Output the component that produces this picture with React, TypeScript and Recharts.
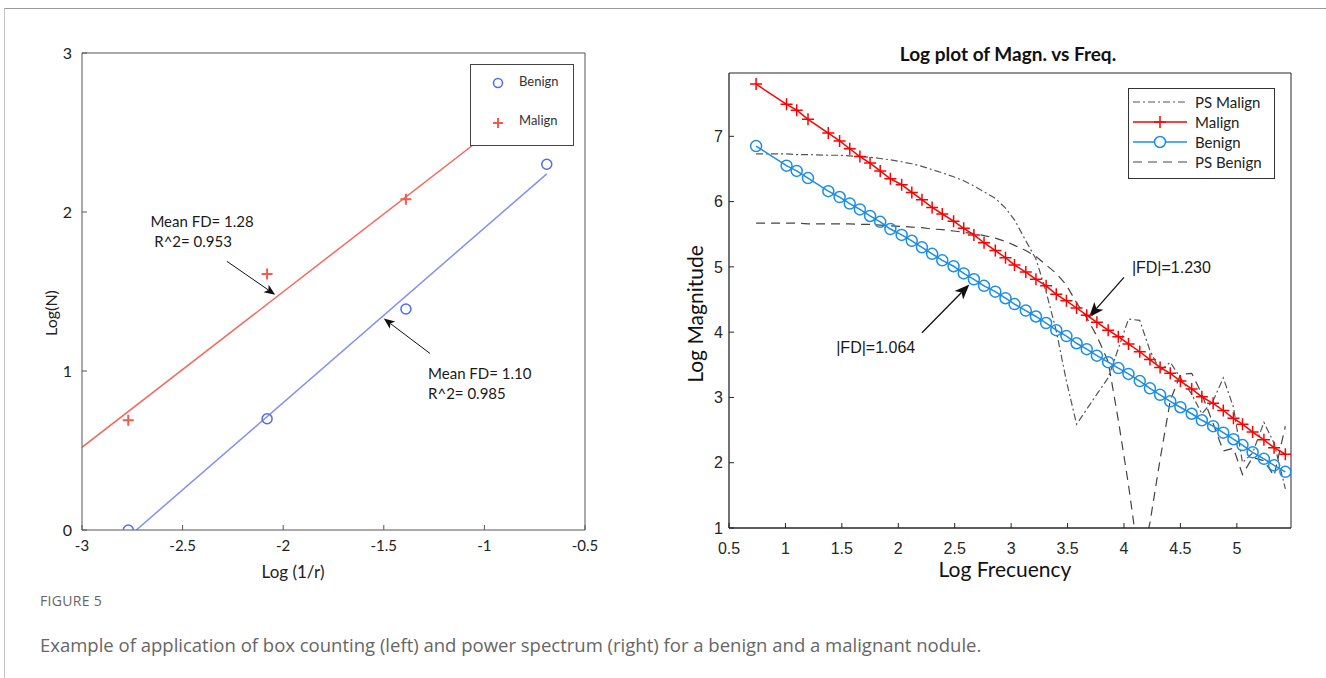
import React from 'react';
import { ComposedChart, Line, Scatter, XAxis, YAxis, ReferenceLine, ReferenceDot } from 'recharts';

// ---- left panel: box counting ----
const boxLogInvR = [-2.77, -2.08, -1.39, -0.69];
const benignLogN = [0.0, 0.7, 1.39, 2.3];
const malignLogN = [0.69, 1.61, 2.08];
const benignFitX = [-2.73, -0.69];
const benignFitY = [0, 2.24];
const malignFitX = [-3, -0.69];
const malignFitY = [0.52, 2.78];
const leftXTicks = [-3, -2.5, -2, -1.5, -1, -0.5];
const leftYTicks = [0, 1, 2, 3];

// ---- right panel: power spectrum ----
const logFreq = [
  0.74, 1.01, 1.1, 1.2, 1.38, 1.48, 1.57, 1.66, 1.75, 1.84, 1.93, 2.03, 2.12, 2.21, 2.3, 2.39, 2.49,
  2.58, 2.67, 2.76, 2.86, 2.95, 3.03, 3.13, 3.22, 3.31, 3.4, 3.49, 3.58, 3.67, 3.76, 3.86, 3.95,
  4.04, 4.14, 4.23, 4.32, 4.41, 4.5, 4.6, 4.69, 4.79, 4.88, 4.97, 5.05, 5.14, 5.24, 5.33, 5.43,
];
const malignMag = [
  7.8, 7.49, 7.4, 7.26, 7.05, 6.93, 6.81, 6.69, 6.59, 6.47, 6.35, 6.26, 6.14, 6.03, 5.91, 5.81, 5.7,
  5.59, 5.49, 5.37, 5.25, 5.14, 5.03, 4.92, 4.81, 4.71, 4.58, 4.48, 4.37, 4.26, 4.15, 4.03, 3.93,
  3.82, 3.7, 3.58, 3.46, 3.37, 3.25, 3.13, 3.01, 2.91, 2.8, 2.68, 2.59, 2.47, 2.35, 2.23, 2.13,
];
const benignMag = [
  6.85, 6.55, 6.47, 6.36, 6.16, 6.07, 5.97, 5.88, 5.78, 5.69, 5.58, 5.49, 5.4, 5.3, 5.2, 5.1, 5.01,
  4.9, 4.81, 4.71, 4.62, 4.52, 4.43, 4.33, 4.24, 4.14, 4.03, 3.94, 3.83, 3.74, 3.64, 3.54, 3.45,
  3.36, 3.25, 3.14, 3.04, 2.94, 2.85, 2.75, 2.65, 2.56, 2.46, 2.36, 2.27, 2.16, 2.06, 1.96, 1.86,
];
const psMalign = [
  6.73, 6.73, 6.72, 6.72, 6.71, 6.71, 6.7, 6.69, 6.68, 6.66, 6.64, 6.61, 6.58, 6.54, 6.49, 6.44, 6.38,
  6.32, 6.24, 6.15, 6.05, 5.9, 5.72, 5.4, 5.12, 4.62, 4.02, 3.25, 2.59, 2.82, 3.05, 3.3, 3.75,
  4.2, 4.18, 3.72, 3.41, 3.54, 3.3, 3.05, 2.75, 2.95, 3.3, 2.85, 2.0, 2.15, 2.62, 2.3, 1.6,
];
const psBenign = [
  5.67, 5.67, 5.67, 5.66, 5.66, 5.66, 5.66, 5.65, 5.65, 5.64, 5.63, 5.62, 5.61, 5.6, 5.58, 5.57, 5.55,
  5.53, 5.51, 5.48, 5.44, 5.39, 5.33, 5.25, 5.16, 5.03, 4.9, 4.72, 4.45, 4.22, 3.94, 3.55, 2.65,
  1.66, 0.4, 1.08, 2.05, 2.95, 3.35, 3.37, 3.05, 2.6, 2.18, 2.22, 1.82, 2.08, 2.03, 1.8, 2.56,
];
const rightXTicks = [0.5, 1, 1.5, 2, 2.5, 3, 3.5, 4, 4.5, 5];
const rightYTicks = [1, 2, 3, 4, 5, 6, 7];

const pts = (xs: number[], ys: number[]) => ys.map((y, i) => ({ x: xs[i], y }));

const benignPts = pts(boxLogInvR, benignLogN);
const malignPts = pts(boxLogInvR, malignLogN);
const benignFit = pts(benignFitX, benignFitY);
const malignFit = pts(malignFitX, malignFitY);

const malignSeries = pts(logFreq, malignMag);
const benignSeries = pts(logFreq, benignMag);
const psMalignSeries = pts(logFreq, psMalign);
const psBenignSeries = pts(logFreq, psBenign);

const CAL = 'Lato, "Open Sans", sans-serif';
const ARIAL = '"Liberation Sans", Arial, sans-serif';

const arrow = (head: number, half: number, sw: number) => (p: any) => {
  const { x1, y1, x2, y2 } = p;
  const a = Math.atan2(y2 - y1, x2 - x1);
  const c = Math.cos(a);
  const s = Math.sin(a);
  const bx = x2 - head * c;
  const by = y2 - head * s;
  const nx = x2 - head * 0.75 * c;
  const ny = y2 - head * 0.75 * s;
  return (
    <g>
      <line x1={x1} y1={y1} x2={nx} y2={ny} stroke="#111" strokeWidth={sw} />
      <polygon
        points={`${x2},${y2} ${bx - s * half},${by + c * half} ${nx},${ny} ${bx + s * half},${by - c * half}`}
        fill="#111"
      />
    </g>
  );
};

const note = (lines: string[], font: string, size: number, lh: number) => (p: any) => (
  <text x={p.cx} y={p.cy} fontFamily={font} fontSize={size} fill="#1a1a1a">
    {lines.map((l, i) => (
      <tspan key={i} x={p.cx} dy={i === 0 ? '0.35em' : lh}>
        {l}
      </tspan>
    ))}
  </text>
);

const circleShape = (color: string, r: number) => (p: any) => (
  <circle cx={p.cx} cy={p.cy} r={r} fill="none" stroke={color} strokeWidth={1.5} />
);
const plusShape = (color: string, h: number, sw: number) => (p: any) => (
  <path
    key={p.index}
    d={`M${p.cx - h},${p.cy}h${2 * h}M${p.cx},${p.cy - h}v${2 * h}`}
    stroke={color}
    strokeWidth={sw}
    fill="none"
  />
);

function BoxCounting() {
  const axisStroke = '#555';
  return (
    <div style={{ position: 'absolute', left: 0, top: 0 }}>
      <ComposedChart width={600} height={590} margin={{ top: 52, right: 14, bottom: 20, left: 40 }}>
        <XAxis
          type="number"
          dataKey="x"
          domain={[-3, -0.5]}
          ticks={leftXTicks}
          interval={0}
          allowDataOverflow
          height={40}
          tickSize={-5}
          tickMargin={15}
          axisLine={{ stroke: axisStroke }}
          tickLine={{ stroke: axisStroke }}
          tick={{ fill: '#222', fontSize: 15, fontFamily: CAL }}
        />
        <XAxis
          xAxisId="top"
          orientation="top"
          type="number"
          dataKey="x"
          domain={[-3, -0.5]}
          ticks={leftXTicks}
          interval={0}
          height={1}
          tickSize={-5}
          tickFormatter={() => ''}
          axisLine={{ stroke: axisStroke }}
          tickLine={{ stroke: axisStroke }}
        />
        <YAxis
          type="number"
          domain={[0, 3]}
          ticks={leftYTicks}
          interval={0}
          allowDataOverflow
          width={42}
          tickSize={-5}
          tickMargin={15}
          axisLine={{ stroke: axisStroke }}
          tickLine={{ stroke: axisStroke }}
          tick={{ fill: '#222', fontSize: 16, fontFamily: CAL }}
        />
        <YAxis
          yAxisId="right"
          orientation="right"
          type="number"
          domain={[0, 3]}
          ticks={leftYTicks}
          interval={0}
          width={1}
          tickSize={-5}
          tickFormatter={() => ''}
          axisLine={{ stroke: axisStroke }}
          tickLine={{ stroke: axisStroke }}
        />
        <Line data={malignFit} dataKey="y" stroke="#f46a5e" strokeWidth={1.5} dot={false} isAnimationActive={false} />
        <Line data={benignFit} dataKey="y" stroke="#8290f5" strokeWidth={1.5} dot={false} isAnimationActive={false} />
        <Scatter data={benignPts} dataKey="y" shape={circleShape('#4f6cf0', 5)} isAnimationActive={false} />
        <Scatter data={malignPts} dataKey="y" shape={plusShape('#f25a52', 5.5, 2)} isAnimationActive={false} />
        <ReferenceLine segment={[{ x: -2.28, y: 1.69 }, { x: -2.04, y: 1.48 }]} shape={arrow(11, 4.5, 1)} />
        <ReferenceLine segment={[{ x: -1.27, y: 1.11 }, { x: -1.5, y: 1.33 }]} shape={arrow(11, 4.5, 1)} />
        <ReferenceDot x={-2.66} y={1.94} r={0} shape={note(['Mean FD= 1.28', ' R^2= 0.953'], CAL, 15, 20)} />
        <ReferenceDot x={-1.28} y={0.98} r={0} shape={note(['Mean FD= 1.10', 'R^2= 0.985'], CAL, 15, 20)} />
      </ComposedChart>
      <div
        style={{
          position: 'absolute', left: 470, top: 64, width: 102, height: 80, border: '1px solid #444',
          background: '#fff', fontFamily: CAL, fontSize: 13, color: '#333',
        }}
      >
        <svg width={20} height={80} style={{ position: 'absolute', left: 17, top: 0 }}>
          <circle cx={10} cy={18} r={4.5} fill="none" stroke="#4f6cf0" strokeWidth={1.5} />
          <path d="M5,58h10M10,53v10" stroke="#f25a52" strokeWidth={2} />
        </svg>
        <div style={{ position: 'absolute', left: 48, top: 8 }}>Benign</div>
        <div style={{ position: 'absolute', left: 48, top: 47 }}>Malign</div>
      </div>
      <div
        style={{
          position: 'absolute', left: 50, top: 313, transform: 'translate(-50%, -50%) rotate(-90deg)',
          fontFamily: CAL, fontSize: 16, color: '#222', whiteSpace: 'nowrap',
        }}
      >
        Log(N)
      </div>
      <div
        style={{
          position: 'absolute', left: 293, top: 571, transform: 'translate(-50%, -50%)',
          fontFamily: CAL, fontSize: 17, color: '#222', whiteSpace: 'nowrap',
        }}
      >
        Log (1/r)
      </div>
    </div>
  );
}

function PowerSpectrum() {
  const axisStroke = '#262626';
  const legendRows = [
    { label: 'PS Malign', color: '#555', dash: '7 3 2 3', mark: '' },
    { label: 'Malign', color: '#ff0000', dash: '', mark: 'plus' },
    { label: 'Benign', color: '#1c8de8', dash: '', mark: 'circle' },
    { label: 'PS Benign', color: '#444', dash: '9 6', mark: '' },
  ];
  return (
    <div style={{ position: 'absolute', left: 660, top: 20 }}>
      <ComposedChart width={650} height={560} margin={{ top: 52, right: 18, bottom: 22, left: 24 }}>
        <XAxis
          type="number"
          dataKey="x"
          domain={[0.5, 5.48]}
          ticks={rightXTicks}
          interval={0}
          allowDataOverflow
          height={30}
          tickSize={-5}
          tickMargin={20}
          axisLine={{ stroke: axisStroke, strokeWidth: 1.3 }}
          tickLine={{ stroke: axisStroke }}
          tick={{ fill: '#262626', fontSize: 16, fontFamily: ARIAL }}
        />
        <XAxis
          xAxisId="top"
          orientation="top"
          type="number"
          dataKey="x"
          domain={[0.5, 5.48]}
          ticks={rightXTicks}
          interval={0}
          height={1}
          tickSize={-5}
          tickFormatter={() => ''}
          axisLine={{ stroke: axisStroke }}
          tickLine={{ stroke: axisStroke }}
        />
        <YAxis
          type="number"
          domain={[1, 7.97]}
          ticks={rightYTicks}
          interval={0}
          allowDataOverflow
          width={45}
          tickSize={-5}
          tickMargin={11}
          axisLine={{ stroke: axisStroke, strokeWidth: 1.3 }}
          tickLine={{ stroke: axisStroke }}
          tick={{ fill: '#262626', fontSize: 16, fontFamily: ARIAL }}
        />
        <YAxis
          yAxisId="right"
          orientation="right"
          type="number"
          domain={[1, 7.97]}
          ticks={rightYTicks}
          interval={0}
          width={1}
          tickSize={-5}
          tickFormatter={() => ''}
          axisLine={{ stroke: axisStroke }}
          tickLine={{ stroke: axisStroke }}
        />
        <Line data={psMalignSeries} dataKey="y" stroke="#555" strokeWidth={1.2} strokeDasharray="7 3 2 3" dot={false} isAnimationActive={false} />
        <Line data={psBenignSeries} dataKey="y" stroke="#444" strokeWidth={1.2} strokeDasharray="9 6" dot={false} isAnimationActive={false} />
        <Line data={malignSeries} dataKey="y" stroke="#ff0000" strokeWidth={1.5} dot={plusShape('#ff0000', 6, 1.5)} isAnimationActive={false} />
        <Line data={benignSeries} dataKey="y" stroke="#1c8de8" strokeWidth={1.5} dot={(p: any) => <circle key={p.index} cx={p.cx} cy={p.cy} r={5.5} fill="none" stroke="#1c8de8" strokeWidth={1.5} />} isAnimationActive={false} />
        <ReferenceLine segment={[{ x: 4.0, y: 4.84 }, { x: 3.69, y: 4.23 }]} shape={arrow(15, 6, 1.3)} />
        <ReferenceLine segment={[{ x: 2.21, y: 3.99 }, { x: 2.63, y: 4.73 }]} shape={arrow(15, 6, 1.3)} />
        <ReferenceDot x={4.07} y={4.99} r={0} shape={note(['|FD|=1.230'], ARIAL, 16, 0)} />
        <ReferenceDot x={1.45} y={3.76} r={0} shape={note(['|FD|=1.064'], ARIAL, 16, 0)} />
      </ComposedChart>
      <div
        style={{
          position: 'absolute', left: 468, top: 68, width: 145, height: 89, border: '1px solid #333',
          background: '#fff', fontFamily: CAL, fontSize: 15, color: '#222',
        }}
      >
        {legendRows.map((r, i) => (
          <div key={r.label} style={{ position: 'absolute', left: 0, top: 3 + i * 20, height: 20, width: 145 }}>
            <svg width={60} height={20} style={{ position: 'absolute', left: 4, top: 0 }}>
              <line x1={0} y1={10} x2={54} y2={10} stroke={r.color} strokeWidth={r.dash ? 1.2 : 1.5} strokeDasharray={r.dash || undefined} />
              {r.mark === 'plus' && <path d="M27,4v12M21,10h12" stroke={r.color} strokeWidth={1.5} />}
              {r.mark === 'circle' && <circle cx={27} cy={10} r={5.5} fill="#fff" stroke={r.color} strokeWidth={1.5} />}
            </svg>
            <div style={{ position: 'absolute', left: 66, top: 0, lineHeight: '20px' }}>{r.label}</div>
          </div>
        ))}
      </div>
      <div
        style={{
          position: 'absolute', left: 348, top: 33, transform: 'translate(-50%, -50%)',
          fontFamily: CAL, fontWeight: 700, fontSize: 19, color: '#111', whiteSpace: 'nowrap',
        }}
      >
        Log plot of Magn. vs Freq.
      </div>
      <div
        style={{
          position: 'absolute', left: 34, top: 294, transform: 'translate(-50%, -50%) rotate(-90deg)',
          fontFamily: CAL, fontSize: 21, color: '#111', whiteSpace: 'nowrap',
        }}
      >
        Log Magnitude
      </div>
      <div
        style={{
          position: 'absolute', left: 345, top: 548, transform: 'translate(-50%, -50%)',
          fontFamily: CAL, fontSize: 21, color: '#111', whiteSpace: 'nowrap',
        }}
      >
        Log Frecuency
      </div>
    </div>
  );
}

export default function App() {
  return (
    <div style={{ position: 'relative', width: 1326, height: 678, overflow: 'hidden', background: '#fff' }}>
      <style>{'body{margin:0}'}</style>
      <div
        style={{
          position: 'absolute', left: 4, top: 8, width: 1400, height: 700,
          borderTop: '1px solid #999', borderLeft: '1px solid #c4c4c4',
        }}
      />
      <BoxCounting />
      <PowerSpectrum />
      <div
        style={{
          position: 'absolute', left: 40, top: 591, fontFamily: '"Open Sans", sans-serif',
          fontSize: 14, color: '#666', letterSpacing: 0.3,
        }}
      >
        FIGURE 5
      </div>
      <div
        style={{
          position: 'absolute', left: 40, top: 632, fontFamily: '"Open Sans", sans-serif',
          fontSize: 18.5, color: '#666', whiteSpace: 'nowrap',
        }}
      >
        Example of application of box counting (left) and power spectrum (right) for a benign and a malignant nodule.
      </div>
    </div>
  );
}
